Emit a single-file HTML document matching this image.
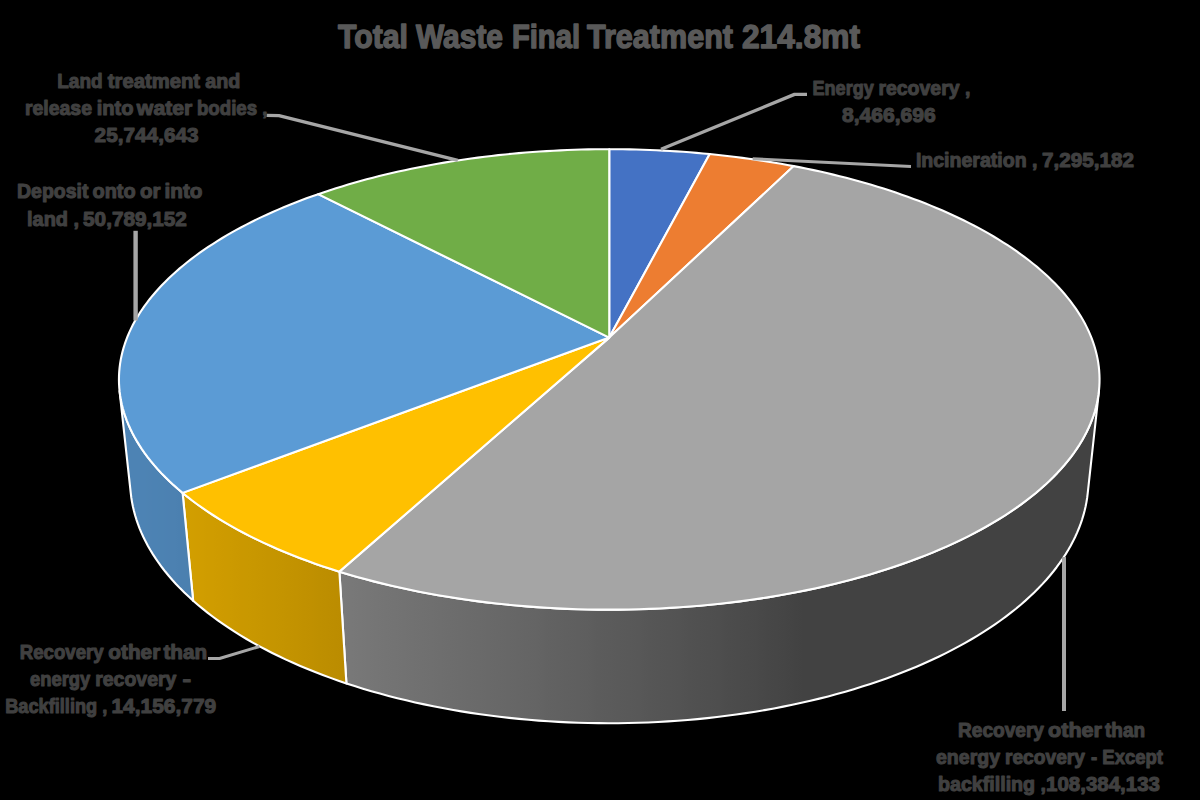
<!DOCTYPE html>
<html><head><meta charset="utf-8"><style>
html,body{margin:0;padding:0;background:#000;width:1200px;height:800px;overflow:hidden}
svg{display:block}
text{font-family:"Liberation Sans",sans-serif;font-weight:bold;fill:#404040;stroke:#404040;stroke-width:1.1px;stroke-linejoin:round}
text.t{fill:#595959;stroke:#595959;stroke-width:1.4px}
</style></head><body>
<svg width="1200" height="800" viewBox="0 0 1200 800">
<rect width="1200" height="800" fill="#000"/>
<defs><linearGradient id="g2" gradientUnits="userSpaceOnUse" x1="342.94" y1="0" x2="1093.25" y2="0"><stop offset="0.0000" stop-color="#797979"/><stop offset="0.0111" stop-color="#787878"/><stop offset="0.0223" stop-color="#777777"/><stop offset="0.0337" stop-color="#767676"/><stop offset="0.0452" stop-color="#757575"/><stop offset="0.0569" stop-color="#747474"/><stop offset="0.0687" stop-color="#737373"/><stop offset="0.0807" stop-color="#727272"/><stop offset="0.0928" stop-color="#717171"/><stop offset="0.1050" stop-color="#707070"/><stop offset="0.1174" stop-color="#6f6f6f"/><stop offset="0.1298" stop-color="#6e6e6e"/><stop offset="0.1424" stop-color="#6d6d6d"/><stop offset="0.1551" stop-color="#6c6c6c"/><stop offset="0.1679" stop-color="#6b6b6b"/><stop offset="0.1807" stop-color="#6a6a6a"/><stop offset="0.1937" stop-color="#696969"/><stop offset="0.2067" stop-color="#686868"/><stop offset="0.2198" stop-color="#676767"/><stop offset="0.2330" stop-color="#666666"/><stop offset="0.2463" stop-color="#656565"/><stop offset="0.2595" stop-color="#646464"/><stop offset="0.2729" stop-color="#626262"/><stop offset="0.2863" stop-color="#616161"/><stop offset="0.2997" stop-color="#606060"/><stop offset="0.3131" stop-color="#5f5f5f"/><stop offset="0.3266" stop-color="#5e5e5e"/><stop offset="0.3401" stop-color="#5c5c5c"/><stop offset="0.3535" stop-color="#5b5b5b"/><stop offset="0.3670" stop-color="#5a5a5a"/><stop offset="0.3805" stop-color="#595959"/><stop offset="0.3940" stop-color="#585858"/><stop offset="0.4074" stop-color="#565656"/><stop offset="0.4208" stop-color="#555555"/><stop offset="0.4342" stop-color="#545454"/><stop offset="0.4476" stop-color="#535353"/><stop offset="0.4609" stop-color="#515151"/><stop offset="0.4741" stop-color="#505050"/><stop offset="0.4873" stop-color="#4f4f4f"/><stop offset="0.5004" stop-color="#4e4e4e"/><stop offset="0.5135" stop-color="#4c4c4c"/><stop offset="0.5265" stop-color="#4b4b4b"/><stop offset="0.5393" stop-color="#4a4a4a"/><stop offset="0.5521" stop-color="#494949"/><stop offset="0.5648" stop-color="#474747"/><stop offset="0.5774" stop-color="#464646"/><stop offset="0.5899" stop-color="#454545"/><stop offset="0.6023" stop-color="#434343"/><stop offset="0.6145" stop-color="#424242"/><stop offset="0.6267" stop-color="#424242"/><stop offset="0.6387" stop-color="#424242"/><stop offset="0.6505" stop-color="#424242"/><stop offset="0.6622" stop-color="#424242"/><stop offset="0.6738" stop-color="#424242"/><stop offset="0.6852" stop-color="#424242"/><stop offset="0.6965" stop-color="#424242"/><stop offset="0.7076" stop-color="#424242"/><stop offset="0.7185" stop-color="#424242"/><stop offset="0.7293" stop-color="#424242"/><stop offset="0.7399" stop-color="#424242"/><stop offset="0.7503" stop-color="#424242"/><stop offset="0.7605" stop-color="#424242"/><stop offset="0.7706" stop-color="#424242"/><stop offset="0.7804" stop-color="#424242"/><stop offset="0.7901" stop-color="#424242"/><stop offset="0.7996" stop-color="#424242"/><stop offset="0.8089" stop-color="#424242"/><stop offset="0.8179" stop-color="#424242"/><stop offset="0.8268" stop-color="#424242"/><stop offset="0.8355" stop-color="#424242"/><stop offset="0.8439" stop-color="#424242"/><stop offset="0.8522" stop-color="#424242"/><stop offset="0.8602" stop-color="#424242"/><stop offset="0.8680" stop-color="#424242"/><stop offset="0.8756" stop-color="#424242"/><stop offset="0.8830" stop-color="#424242"/><stop offset="0.8901" stop-color="#424242"/><stop offset="0.8971" stop-color="#424242"/><stop offset="0.9038" stop-color="#424242"/><stop offset="0.9103" stop-color="#424242"/><stop offset="0.9165" stop-color="#424242"/><stop offset="0.9226" stop-color="#424242"/><stop offset="0.9284" stop-color="#424242"/><stop offset="0.9339" stop-color="#424242"/><stop offset="0.9393" stop-color="#424242"/><stop offset="0.9444" stop-color="#424242"/><stop offset="0.9493" stop-color="#424242"/><stop offset="0.9540" stop-color="#424242"/><stop offset="0.9585" stop-color="#424242"/><stop offset="0.9627" stop-color="#424242"/><stop offset="0.9667" stop-color="#424242"/><stop offset="0.9705" stop-color="#424242"/><stop offset="0.9740" stop-color="#424242"/><stop offset="0.9773" stop-color="#424242"/><stop offset="0.9804" stop-color="#424242"/><stop offset="0.9833" stop-color="#424242"/><stop offset="0.9859" stop-color="#424242"/><stop offset="0.9884" stop-color="#424242"/><stop offset="0.9906" stop-color="#424242"/><stop offset="0.9926" stop-color="#424242"/><stop offset="0.9943" stop-color="#424242"/><stop offset="0.9959" stop-color="#424242"/><stop offset="0.9972" stop-color="#424242"/><stop offset="0.9984" stop-color="#424242"/><stop offset="0.9993" stop-color="#424242"/><stop offset="1.0000" stop-color="#424242"/></linearGradient><linearGradient id="g3" gradientUnits="userSpaceOnUse" x1="187.93" y1="0" x2="342.94" y2="0"><stop offset="0.0000" stop-color="#d29e00"/><stop offset="0.0300" stop-color="#d19e00"/><stop offset="0.0612" stop-color="#d19d00"/><stop offset="0.0933" stop-color="#d09d00"/><stop offset="0.1266" stop-color="#cf9c00"/><stop offset="0.1609" stop-color="#cf9c00"/><stop offset="0.1962" stop-color="#ce9b00"/><stop offset="0.2326" stop-color="#cd9a00"/><stop offset="0.2700" stop-color="#cc9a00"/><stop offset="0.3085" stop-color="#cb9900"/><stop offset="0.3479" stop-color="#ca9800"/><stop offset="0.3884" stop-color="#c99800"/><stop offset="0.4298" stop-color="#c89700"/><stop offset="0.4723" stop-color="#c79600"/><stop offset="0.5157" stop-color="#c69500"/><stop offset="0.5600" stop-color="#c59500"/><stop offset="0.6054" stop-color="#c49400"/><stop offset="0.6516" stop-color="#c39300"/><stop offset="0.6988" stop-color="#c29200"/><stop offset="0.7468" stop-color="#c19100"/><stop offset="0.7958" stop-color="#c09000"/><stop offset="0.8456" stop-color="#be8f00"/><stop offset="0.8962" stop-color="#bd8e00"/><stop offset="0.9477" stop-color="#bc8d00"/><stop offset="1.0000" stop-color="#bb8c00"/></linearGradient><linearGradient id="g4" gradientUnits="userSpaceOnUse" x1="125.24" y1="0" x2="187.93" y2="0"><stop offset="0.0000" stop-color="#4d83b4"/><stop offset="0.0085" stop-color="#4d83b4"/><stop offset="0.0195" stop-color="#4d83b4"/><stop offset="0.0331" stop-color="#4d83b4"/><stop offset="0.0491" stop-color="#4d83b4"/><stop offset="0.0678" stop-color="#4d83b4"/><stop offset="0.0890" stop-color="#4d83b4"/><stop offset="0.1129" stop-color="#4d83b4"/><stop offset="0.1394" stop-color="#4d83b4"/><stop offset="0.1685" stop-color="#4d83b4"/><stop offset="0.2002" stop-color="#4d83b4"/><stop offset="0.2346" stop-color="#4d83b4"/><stop offset="0.2717" stop-color="#4d83b4"/><stop offset="0.3114" stop-color="#4d83b4"/><stop offset="0.3539" stop-color="#4d83b3"/><stop offset="0.3991" stop-color="#4d82b3"/><stop offset="0.4469" stop-color="#4c82b3"/><stop offset="0.4975" stop-color="#4c82b3"/><stop offset="0.5508" stop-color="#4c82b2"/><stop offset="0.6068" stop-color="#4c82b2"/><stop offset="0.6655" stop-color="#4c81b2"/><stop offset="0.7270" stop-color="#4c81b1"/><stop offset="0.7912" stop-color="#4c81b1"/><stop offset="0.8581" stop-color="#4b80b0"/><stop offset="0.9277" stop-color="#4b80b0"/><stop offset="1.0000" stop-color="#4b80af"/></linearGradient></defs>
<path d="M1098.92,391.04L1098.40,395.15L1097.72,399.27L1096.88,403.40L1095.88,407.53L1094.72,411.67L1093.39,415.81L1091.90,419.95L1090.24,424.09L1088.41,428.23L1086.41,432.37L1084.25,436.50L1081.92,440.62L1079.41,444.73L1076.74,448.84L1073.89,452.93L1070.88,457.01L1067.69,461.08L1064.32,465.12L1060.79,469.15L1057.08,473.16L1053.20,477.15L1049.14,481.11L1044.92,485.05L1040.52,488.96L1035.94,492.84L1031.20,496.69L1026.29,500.51L1021.20,504.29L1015.94,508.03L1010.52,511.73L1004.93,515.40L999.17,519.02L993.24,522.59L987.15,526.12L980.90,529.60L974.49,533.03L967.92,536.41L961.19,539.74L954.30,543.00L947.26,546.21L940.07,549.36L932.73,552.45L925.25,555.48L917.62,558.44L909.84,561.33L901.93,564.15L893.89,566.90L885.71,569.58L877.40,572.19L868.96,574.72L860.41,577.17L851.73,579.55L842.94,581.84L834.03,584.05L825.02,586.18L815.90,588.22L806.68,590.18L797.37,592.05L787.96,593.83L778.47,595.53L768.89,597.13L759.23,598.64L749.50,600.05L739.70,601.37L729.84,602.60L719.91,603.73L709.93,604.77L699.90,605.70L689.83,606.54L679.71,607.28L669.56,607.93L659.38,608.47L649.17,608.91L638.94,609.25L628.70,609.49L618.45,609.63L608.19,609.67L597.94,609.61L587.69,609.45L577.45,609.19L567.22,608.83L557.02,608.36L546.84,607.80L536.70,607.14L526.59,606.38L516.52,605.52L506.50,604.56L496.53,603.51L486.62,602.36L476.77,601.11L466.98,599.77L457.27,598.33L447.63,596.81L438.07,595.19L428.59,593.48L419.20,591.68L409.91,589.79L400.71,587.81L391.62,585.75L382.62,583.60L373.74,581.38L364.97,579.07L356.32,576.67L347.79,574.21L339.38,571.66L346.41,683.41L354.61,686.08L362.94,688.66L371.37,691.17L379.92,693.59L388.58,695.93L397.34,698.18L406.21,700.34L415.17,702.41L424.23,704.39L433.37,706.27L442.60,708.07L451.91,709.76L461.30,711.36L470.76,712.87L480.29,714.27L489.88,715.58L499.54,716.78L509.24,717.89L519.00,718.89L528.80,719.79L538.64,720.59L548.51,721.28L558.41,721.87L568.35,722.35L578.30,722.73L588.26,723.01L598.24,723.17L608.22,723.24L618.20,723.20L628.18,723.05L638.15,722.80L648.10,722.44L658.04,721.98L667.95,721.41L677.83,720.74L687.68,719.96L697.49,719.08L707.25,718.10L716.97,717.02L726.63,715.83L736.24,714.55L745.78,713.16L755.25,711.68L764.66,710.10L773.98,708.42L783.23,706.65L792.40,704.78L801.47,702.82L810.45,700.77L819.34,698.63L828.12,696.40L836.80,694.08L845.37,691.67L853.83,689.19L862.18,686.61L870.40,683.96L878.51,681.23L886.49,678.42L894.34,675.53L902.06,672.57L909.65,669.54L917.10,666.43L924.41,663.26L931.58,660.02L938.60,656.71L945.48,653.35L952.21,649.92L958.79,646.43L965.21,642.88L971.48,639.28L977.60,635.62L983.56,631.92L989.36,628.16L995.00,624.36L1000.48,620.51L1005.79,616.61L1010.94,612.68L1015.93,608.71L1020.75,604.69L1025.41,600.65L1029.89,596.57L1034.21,592.46L1038.37,588.31L1042.35,584.14L1046.17,579.95L1049.82,575.73L1053.30,571.49L1056.62,567.23L1059.76,562.95L1062.74,558.65L1065.55,554.34L1068.20,550.02L1070.67,545.69L1072.99,541.34L1075.13,536.99L1077.11,532.63L1078.93,528.27L1080.59,523.91L1082.08,519.54L1083.42,515.18L1084.59,510.81L1085.60,506.45L1086.46,502.10L1087.16,497.75L1087.70,493.41Z" fill="url(#g2)" stroke="#fff" stroke-width="2.1" stroke-linejoin="round"/>
<path d="M339.38,571.66L331.17,569.06L323.09,566.39L315.14,563.65L307.32,560.84L299.64,557.97L292.10,555.02L284.71,552.02L277.45,548.95L270.35,545.82L263.39,542.63L256.58,539.39L249.93,536.09L243.43,532.74L237.09,529.33L230.91,525.88L224.88,522.38L219.02,518.83L213.32,515.24L207.79,511.61L202.41,507.94L197.21,504.23L192.17,500.48L187.30,496.70L182.60,492.88L193.14,600.69L197.75,604.70L202.53,608.68L207.47,612.62L212.57,616.52L217.83,620.38L223.25,624.19L228.84,627.96L234.57,631.69L240.47,635.36L246.52,638.99L252.72,642.57L259.07,646.09L265.58,649.55L272.23,652.95L279.03,656.30L285.97,659.58L293.06,662.80L300.28,665.96L307.64,669.04L315.14,672.06L322.77,675.01L330.52,677.88L338.41,680.68L346.41,683.41Z" fill="url(#g3)" stroke="#fff" stroke-width="2.1" stroke-linejoin="round"/>
<path d="M182.60,492.88L178.02,489.00L173.62,485.09L169.39,481.15L165.33,477.19L161.45,473.20L157.73,469.19L154.20,465.16L150.83,461.11L147.64,457.04L144.62,452.96L141.77,448.86L139.09,444.76L136.59,440.64L134.25,436.52L132.09,432.38L130.09,428.25L128.26,424.11L126.60,419.97L125.11,415.82L123.78,411.68L122.61,407.54L121.61,403.41L120.77,399.28L120.09,395.15L119.57,391.04L130.79,493.41L131.33,497.75L132.03,502.10L132.89,506.46L133.91,510.82L135.08,515.19L136.41,519.55L137.91,523.92L139.56,528.29L141.38,532.65L143.37,537.01L145.52,541.36L147.83,545.71L150.31,550.05L152.96,554.37L155.77,558.68L158.75,562.98L161.90,567.26L165.21,571.52L168.70,575.77L172.35,579.99L176.17,584.18L180.16,588.36L184.32,592.50L188.65,596.61L193.14,600.69Z" fill="url(#g4)" stroke="#fff" stroke-width="2.1" stroke-linejoin="round"/>
<path d="M609.25,337.59L609.25,149.19L615.98,149.21L622.71,149.28L629.45,149.38L636.18,149.54L642.90,149.73L649.62,149.97L656.33,150.25L663.04,150.58L669.74,150.95L676.43,151.36L683.11,151.82L689.78,152.32L696.44,152.86L703.08,153.45L709.71,154.07Z" fill="#4472C4" stroke="#fff" stroke-width="2.1" stroke-linejoin="round"/>
<path d="M609.25,337.59L709.71,154.07L716.29,154.74L722.85,155.46L729.40,156.21L735.92,157.01L742.43,157.85L748.92,158.73L755.39,159.65L761.83,160.62L768.25,161.63L774.65,162.69L781.02,163.78L787.37,164.92L793.69,166.10Z" fill="#ED7D31" stroke="#fff" stroke-width="2.1" stroke-linejoin="round"/>
<path d="M609.25,337.59L793.69,166.10L800.36,167.40L807.01,168.75L813.61,170.14L820.19,171.59L826.72,173.08L833.22,174.62L839.67,176.20L846.09,177.83L852.46,179.51L858.79,181.24L865.07,183.01L871.31,184.84L877.49,186.70L883.63,188.62L889.72,190.58L895.75,192.59L901.73,194.64L907.66,196.75L913.53,198.89L919.34,201.09L925.09,203.32L930.77,205.61L936.40,207.94L941.96,210.31L947.45,212.73L952.88,215.20L958.23,217.71L963.52,220.26L968.73,222.86L973.87,225.50L978.93,228.19L983.92,230.92L988.82,233.69L993.65,236.51L998.39,239.37L1003.04,242.27L1007.61,245.21L1012.09,248.19L1016.49,251.21L1020.79,254.28L1024.99,257.38L1029.11,260.53L1033.12,263.71L1037.04,266.93L1040.85,270.20L1044.57,273.49L1048.18,276.83L1051.68,280.20L1055.07,283.61L1058.36,287.06L1061.53,290.54L1064.59,294.06L1067.54,297.60L1070.37,301.19L1073.08,304.80L1075.66,308.45L1078.13,312.12L1080.47,315.83L1082.69,319.57L1084.77,323.33L1086.73,327.13L1088.55,330.95L1090.25,334.80L1091.80,338.67L1093.22,342.56L1094.50,346.48L1095.64,350.43L1096.64,354.39L1097.49,358.37L1098.20,362.38L1098.76,366.40L1099.17,370.44L1099.43,374.49L1099.54,378.56L1099.50,382.64L1099.30,386.73L1098.95,390.84L1098.43,394.95L1097.76,399.07L1096.93,403.20L1095.93,407.34L1094.78,411.48L1093.45,415.62L1091.97,419.76L1090.32,423.90L1088.50,428.04L1086.51,432.18L1084.35,436.31L1082.02,440.44L1079.53,444.56L1076.86,448.66L1074.02,452.76L1071.01,456.84L1067.82,460.91L1064.47,464.96L1060.94,468.99L1057.23,473.00L1053.36,476.99L1049.31,480.96L1045.08,484.90L1040.69,488.81L1036.12,492.70L1031.38,496.55L1026.47,500.37L1021.39,504.15L1016.14,507.90L1010.71,511.60L1005.13,515.27L999.37,518.89L993.45,522.47L987.36,526.01L981.11,529.49L974.70,532.92L968.13,536.31L961.40,539.63L954.52,542.90L947.48,546.12L940.29,549.27L932.95,552.36L925.47,555.39L917.84,558.35L910.07,561.25L902.15,564.07L894.11,566.83L885.93,569.51L877.62,572.12L869.18,574.65L860.63,577.11L851.95,579.49L843.15,581.78L834.25,584.00L825.23,586.13L816.11,588.18L806.89,590.14L797.57,592.01L788.17,593.80L778.67,595.49L769.09,597.10L759.43,598.61L749.70,600.03L739.89,601.35L730.03,602.58L720.10,603.71L710.11,604.75L700.08,605.69L690.00,606.53L679.88,607.27L669.72,607.92L659.54,608.46L649.33,608.90L639.09,609.25L628.85,609.49L618.59,609.63L608.33,609.67L598.07,609.61L587.81,609.45L577.57,609.19L567.34,608.83L557.13,608.37L546.95,607.81L536.80,607.15L526.69,606.39L516.61,605.53L506.59,604.57L496.61,603.52L486.70,602.37L476.84,601.12L467.05,599.78L457.33,598.34L447.68,596.82L438.12,595.20L428.64,593.48L419.24,591.68L409.94,589.79L400.74,587.82L391.64,585.76L382.65,583.61L373.76,581.38L364.98,579.07L356.33,576.68L347.79,574.21L339.38,571.66Z" fill="#A5A5A5" stroke="#fff" stroke-width="2.1" stroke-linejoin="round"/>
<path d="M609.25,337.59L339.38,571.66L331.17,569.06L323.09,566.39L315.14,563.65L307.32,560.84L299.64,557.97L292.10,555.02L284.71,552.02L277.45,548.95L270.35,545.82L263.39,542.63L256.58,539.39L249.93,536.09L243.43,532.74L237.09,529.33L230.91,525.88L224.88,522.38L219.02,518.83L213.32,515.24L207.79,511.61L202.41,507.94L197.21,504.23L192.17,500.48L187.30,496.70L182.60,492.88Z" fill="#FFC000" stroke="#fff" stroke-width="2.1" stroke-linejoin="round"/>
<path d="M609.25,337.59L182.60,492.88L178.06,489.04L173.69,485.16L169.49,481.25L165.46,477.32L161.60,473.37L157.91,469.39L154.40,465.39L151.05,461.38L147.87,457.34L144.86,453.30L142.02,449.24L139.35,445.17L136.85,441.08L134.51,436.99L132.35,432.90L130.34,428.80L128.51,424.69L126.84,420.58L125.33,416.47L123.99,412.37L122.80,408.26L121.78,404.16L120.92,400.06L120.21,395.97L119.66,391.89L119.27,387.82L119.03,383.76L118.94,379.70L119.01,375.67L119.22,371.64L119.59,367.63L120.10,363.64L120.75,359.66L121.55,355.71L122.49,351.77L123.58,347.85L124.80,343.96L126.16,340.09L127.65,336.24L129.28,332.41L131.04,328.61L132.92,324.84L134.94,321.09L137.09,317.38L139.36,313.69L141.75,310.03L144.26,306.40L146.90,302.80L149.65,299.23L152.52,295.70L155.50,292.20L158.59,288.73L161.80,285.30L165.11,281.90L168.53,278.53L172.06,275.21L175.69,271.91L179.42,268.66L183.25,265.44L187.18,262.27L191.20,259.13L195.32,256.02L199.53,252.96L203.84,249.94L208.23,246.96L212.71,244.02L217.28,241.12L221.93,238.26L226.66,235.44L231.47,232.66L236.37,229.93L241.34,227.24L246.38,224.59L251.50,221.98L256.70,219.42L261.96,216.90L267.30,214.43L272.70,212.00L278.17,209.61L283.70,207.27L289.29,204.97L294.95,202.72L300.67,200.51L306.45,198.34L312.28,196.23L318.17,194.15Z" fill="#5B9BD5" stroke="#fff" stroke-width="2.1" stroke-linejoin="round"/>
<path d="M609.25,337.59L318.17,194.15L324.06,192.15L330.00,190.18L335.99,188.26L342.03,186.39L348.11,184.56L354.25,182.78L360.43,181.04L366.65,179.35L372.91,177.70L379.22,176.10L385.56,174.55L391.95,173.04L398.37,171.57L404.82,170.16L411.32,168.78L417.84,167.46L424.40,166.18L430.98,164.95L437.60,163.76L444.25,162.62L450.92,161.52L457.62,160.48L464.34,159.47L471.09,158.52L477.86,157.61L484.65,156.75L491.46,155.93L498.29,155.16L505.14,154.44L512.01,153.76L518.89,153.13L525.78,152.55L532.69,152.01L539.61,151.52L546.55,151.08L553.49,150.68L560.44,150.33L567.40,150.03L574.36,149.77L581.33,149.56L588.31,149.40L595.28,149.28L602.26,149.21L609.25,149.19Z" fill="#70AD47" stroke="#fff" stroke-width="2.1" stroke-linejoin="round"/>
<polyline points="266.5,115.4 279,115.6 457.8,160.4" fill="none" stroke="#a6a6a6" stroke-width="3.2" stroke-linejoin="round"/><polyline points="135.6,230.8 135.6,320.5" fill="none" stroke="#a6a6a6" stroke-width="4.4" stroke-linejoin="round"/><polyline points="807,94.4 794.5,94.4 661,149.3" fill="none" stroke="#a6a6a6" stroke-width="3.3" stroke-linejoin="round"/><polyline points="911,166.5 752.7,158.75" fill="none" stroke="#a6a6a6" stroke-width="3.1" stroke-linejoin="round"/><polyline points="208,658.5 219.5,658.5 259.5,646.5" fill="none" stroke="#a6a6a6" stroke-width="3.0" stroke-linejoin="round"/><polyline points="1064,711 1064,557" fill="none" stroke="#a6a6a6" stroke-width="4.0" stroke-linejoin="round"/>
<text class="t" x="337.99" y="47.80" font-size="32.5" textLength="70.04" lengthAdjust="spacingAndGlyphs">Total</text><text class="t" x="415.99" y="47.80" font-size="32.5" textLength="87.03" lengthAdjust="spacingAndGlyphs">Waste</text><text class="t" x="511.91" y="47.80" font-size="32.5" textLength="68.13" lengthAdjust="spacingAndGlyphs">Final</text><text class="t" x="586.99" y="47.80" font-size="32.5" textLength="146.02" lengthAdjust="spacingAndGlyphs">Treatment</text><text class="t" x="741.99" y="47.80" font-size="32.5" textLength="118.02" lengthAdjust="spacingAndGlyphs">214.8mt</text><text x="57.25" y="87.70" font-size="21" textLength="45.39" lengthAdjust="spacingAndGlyphs">Land</text><text x="107.79" y="87.70" font-size="21" textLength="92.23" lengthAdjust="spacingAndGlyphs">treatment</text><text x="205.19" y="87.70" font-size="21" textLength="35.03" lengthAdjust="spacingAndGlyphs">and</text><text x="24.98" y="115.30" font-size="21" textLength="67.02" lengthAdjust="spacingAndGlyphs">release</text><text x="96.68" y="115.30" font-size="21" textLength="36.85" lengthAdjust="spacingAndGlyphs">into</text><text x="136.88" y="115.30" font-size="21" textLength="55.42" lengthAdjust="spacingAndGlyphs">water</text><text x="196.88" y="115.30" font-size="21" textLength="70.64" lengthAdjust="spacingAndGlyphs">bodies ,</text><text x="94.60" y="142.30" font-size="21" textLength="104.01" lengthAdjust="spacingAndGlyphs">25,744,643</text><text x="17.00" y="198.30" font-size="21" textLength="71.41" lengthAdjust="spacingAndGlyphs">Deposit</text><text x="92.48" y="198.30" font-size="21" textLength="43.14" lengthAdjust="spacingAndGlyphs">onto</text><text x="140.00" y="198.30" font-size="21" textLength="20.62" lengthAdjust="spacingAndGlyphs">or</text><text x="164.58" y="198.30" font-size="21" textLength="37.94" lengthAdjust="spacingAndGlyphs">into</text><text x="27.05" y="225.80" font-size="21" textLength="52.08" lengthAdjust="spacingAndGlyphs">land ,</text><text x="83.09" y="225.80" font-size="21" textLength="103.82" lengthAdjust="spacingAndGlyphs">50,789,152</text><text x="812.47" y="94.50" font-size="21" textLength="61.34" lengthAdjust="spacingAndGlyphs">Energy</text><text x="878.39" y="94.50" font-size="21" textLength="92.02" lengthAdjust="spacingAndGlyphs">recovery ,</text><text x="842.00" y="122.20" font-size="21" textLength="93.81" lengthAdjust="spacingAndGlyphs">8,466,696</text><text x="915.89" y="166.50" font-size="21" textLength="121.62" lengthAdjust="spacingAndGlyphs">Incineration ,</text><text x="1042.09" y="166.50" font-size="21" textLength="92.01" lengthAdjust="spacingAndGlyphs">7,295,182</text><text x="19.74" y="659.20" font-size="21" textLength="83.96" lengthAdjust="spacingAndGlyphs">Recovery</text><text x="108.24" y="659.20" font-size="21" textLength="52.06" lengthAdjust="spacingAndGlyphs">other</text><text x="163.49" y="659.20" font-size="21" textLength="43.62" lengthAdjust="spacingAndGlyphs">than</text><text x="30.00" y="686.00" font-size="21" textLength="60.30" lengthAdjust="spacingAndGlyphs">energy</text><text x="95.19" y="686.00" font-size="21" textLength="81.22" lengthAdjust="spacingAndGlyphs">recovery</text><text x="182.54" y="686.00" font-size="21" textLength="8.59" lengthAdjust="spacingAndGlyphs">-</text><text x="5.19" y="712.80" font-size="21" textLength="102.12" lengthAdjust="spacingAndGlyphs">Backfilling ,</text><text x="111.49" y="712.80" font-size="21" textLength="104.72" lengthAdjust="spacingAndGlyphs">14,156,779</text><text x="957.99" y="736.60" font-size="21" textLength="86.01" lengthAdjust="spacingAndGlyphs">Recovery</text><text x="1048.00" y="736.60" font-size="21" textLength="54.00" lengthAdjust="spacingAndGlyphs">other</text><text x="1105.00" y="736.60" font-size="21" textLength="40.00" lengthAdjust="spacingAndGlyphs">than</text><text x="936.00" y="764.20" font-size="21" textLength="64.02" lengthAdjust="spacingAndGlyphs">energy</text><text x="1004.99" y="764.20" font-size="21" textLength="80.01" lengthAdjust="spacingAndGlyphs">recovery</text><text x="1091.00" y="764.20" font-size="21" textLength="72.00" lengthAdjust="spacingAndGlyphs">- Except</text><text x="937.98" y="790.50" font-size="21" textLength="108.03" lengthAdjust="spacingAndGlyphs">backfilling ,</text><text x="1045.99" y="790.50" font-size="21" textLength="114.01" lengthAdjust="spacingAndGlyphs">108,384,133</text>
</svg>
</body></html>
